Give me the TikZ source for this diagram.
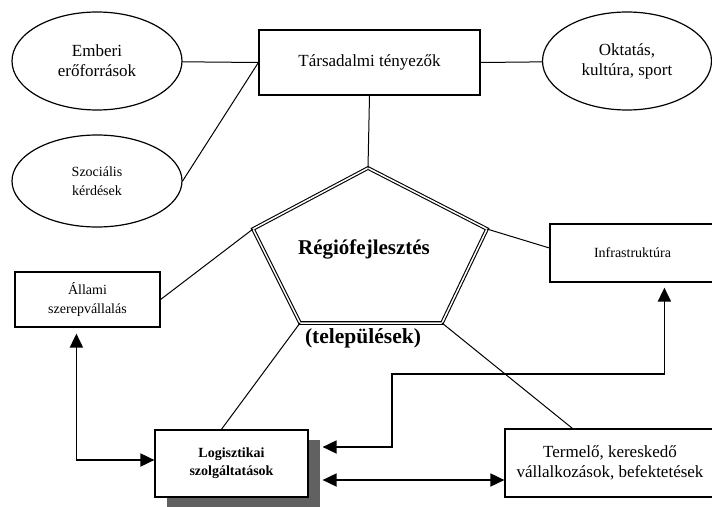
\documentclass[tikz,border=0pt]{standalone}
\usepackage{fontspec}
\setmainfont{Liberation Serif}
\usepackage{tikz}
\usetikzlibrary{arrows.meta,shapes.geometric,shadows}

\begin{document}
\begin{tikzpicture}[x=1pt,y=-1pt,>={Triangle[length=14pt,width=13pt]},line cap=round,
  box/.style={draw,line width=1.2pt,align=center,inner sep=2pt},
  oval/.style={draw,ellipse,line width=1.2pt,align=center,inner sep=0pt},
  big/.style={font=\fontsize{17}{20}\selectfont},
  small/.style={font=\fontsize{14}{19}\selectfont},
  link/.style={line width=1pt},
  arr/.style={line width=1.8pt,<->}]
\useasboundingbox (0,0) rectangle (712,506);
\clip (0,0) rectangle (712,506);
\node[oval,big,minimum width=170pt,minimum height=98pt] (emb) at (97,61) {Emberi\\erőforrások};
\node[oval,big,minimum width=169pt,minimum height=98pt] (okt) at (627,61) {Oktatás,\\kultúra, sport};
\node[oval,small,minimum width=170pt,minimum height=92pt] (szoc) at (97,181) {Szociális\\kérdések};
\node[box,big,minimum width=221pt,minimum height=65pt] (tars) at (369.5,62.5) {Társadalmi tényezők};
\node[box,small,minimum width=145pt,minimum height=55pt] (allami) at (87.5,299.5) {Állami\\szerepvállalás};
\node[box,small,minimum width=165pt,minimum height=58pt] (infra) at (632.5,253) {Infrastruktúra};
\node[box,font=\fontsize{14}{18}\selectfont\bfseries,fill=white,minimum width=153pt,minimum height=67pt,
  drop shadow={shadow xshift=12pt,shadow yshift=-10pt,fill=black!62,opacity=1}] (logi) at (231.5,463.5) {Logisztikai\\szolgáltatások};
\node[box,big,minimum width=210pt,minimum height=68pt] (term) at (610,463) {Termelő, kereskedő\\vállalkozások, befektetések};
\coordinate (ptop) at (368,168);
\coordinate (pright) at (487,229);
\coordinate (pbr) at (442,323);
\coordinate (pbl) at (300,323);
\coordinate (pleft) at (253,229);
\draw[double,double distance=1.5pt,line width=1.1pt] (ptop) -- (pright) -- (pbr) -- (pbl) -- (pleft) -- cycle;
\node[font=\fontsize{21}{25}\selectfont\bfseries] (reg) at (364,249) {Régiófejlesztés};
\node[font=\fontsize{21.5}{25}\selectfont\bfseries] (tel) at (363,338) {(települések)};
\draw[link] (emb) -- (tars.west);
\draw[link] (szoc.east) -- (tars.west);
\draw[link] (okt) -- (tars.east);
\draw[link] (tars.south) -- (ptop);
\draw[link] (allami.east) -- (pleft);
\draw[link] ([yshift=5pt]infra.west) -- (pright);
\draw[link] ([xshift=67pt]logi.north west) -- (pbl);
\draw[link] ([xshift=68pt]term.north west) -- (pbr);
\coordinate (bend) at (392,374);
\draw[arr,shorten <=6pt] ([xshift=62pt]allami.south west) |- ([yshift=3.5pt]logi.west);
\draw[arr,shorten <=5pt] ([xshift=115pt]infra.south west) |- (bend) |- ([xshift=14pt,yshift=16.5pt]logi.east);
\draw[arr] ([xshift=14pt,yshift=-16.5pt]logi.east) -- ([yshift=-17pt]term.west);
\end{tikzpicture}
\end{document}
